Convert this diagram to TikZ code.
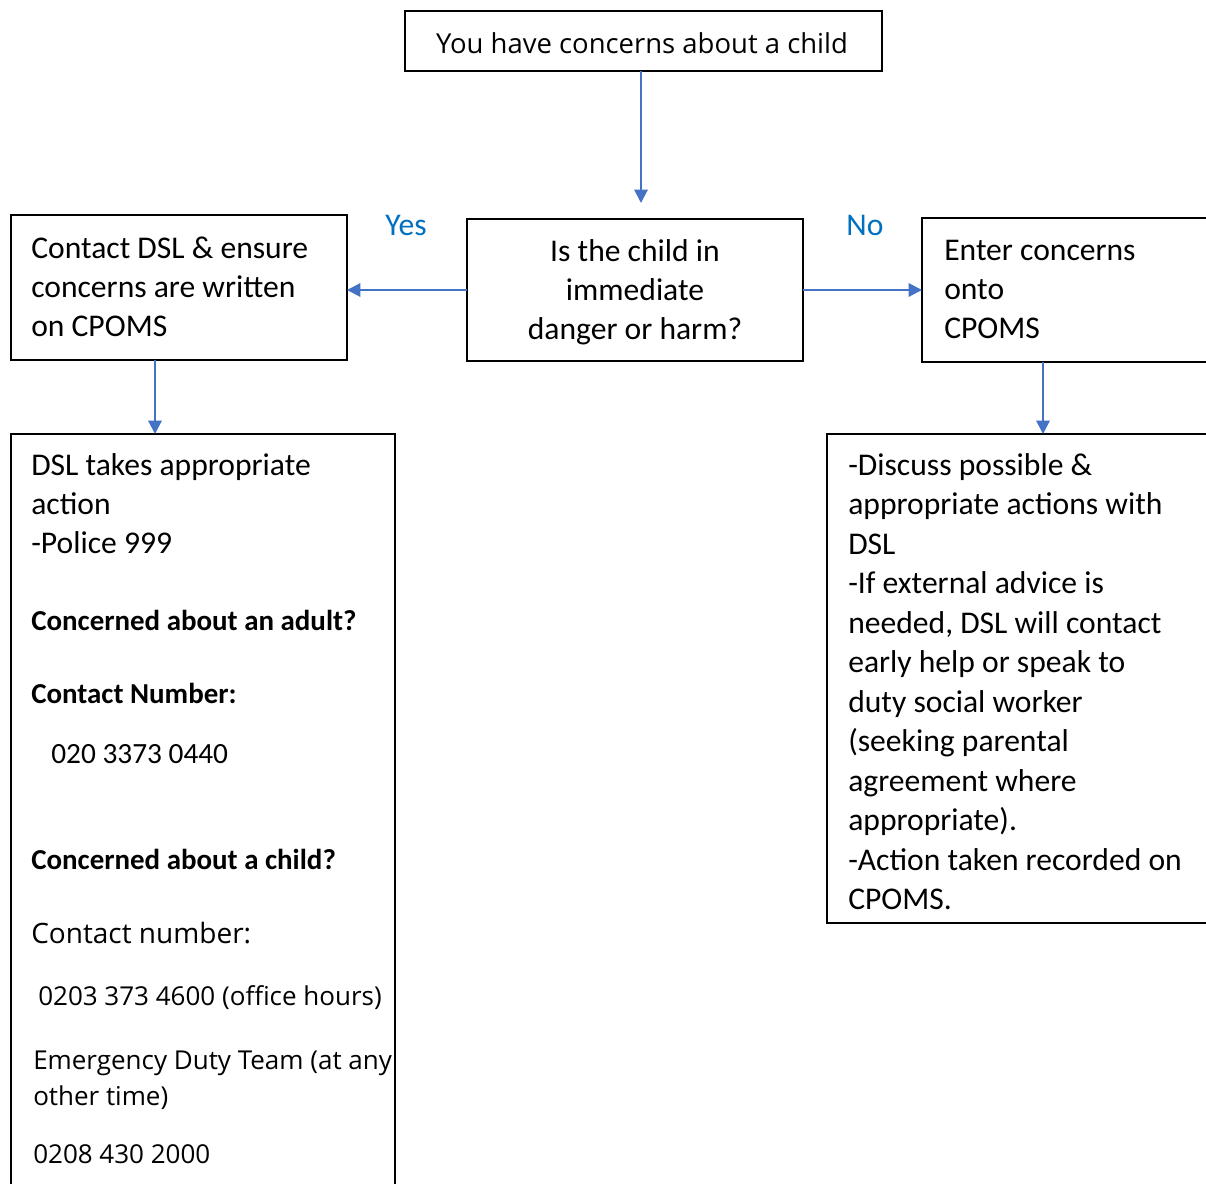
\documentclass[tikz,border=0pt]{standalone}
\usepackage{fontspec}
\setmainfont{Carlito}
\newfontfamily\osans{Open Sans}
\usetikzlibrary{arrows.meta}
\definecolor{arrowblue}{HTML}{4472C4}
\definecolor{labelblue}{HTML}{0070C0}
\begin{document}
\begin{tikzpicture}[x=0.75pt,y=-0.75pt,
  boxstyle/.style={draw=black,line width=1.6pt,inner sep=0pt},
  txt/.style={inner sep=0pt,anchor=base west,font=\fontsize{23.7}{28}\selectfont},
  ctxt/.style={inner sep=0pt,anchor=base,font=\fontsize{23.7}{28}\selectfont},
  btxt/.style={inner sep=0pt,anchor=base west,font=\fontsize{21.7}{26}\selectfont\bfseries},
  otxt/.style={inner sep=0pt,anchor=base west,font=\fontsize{19.5}{24}\selectfont\osans},
  lbl/.style={inner sep=0pt,anchor=base,text=labelblue,font=\fontsize{23.7}{28}\selectfont},
  conn/.style={draw=arrowblue,line width=1.5pt,-{Triangle[length=10pt,width=10pt]}}]
\useasboundingbox (0,0) rectangle (1206,1184);
% boxes
\draw[boxstyle] (405,11) rectangle (882,71);
\draw[boxstyle] (467,219) rectangle (803,361);
\draw[boxstyle] (11,215) rectangle (347,360);
\draw[boxstyle] (922,218) rectangle (1215,362);
\draw[boxstyle] (11,434) rectangle (395,1200);
\draw[boxstyle] (827,434) rectangle (1215,923);
% anchor coordinates
\coordinate (topB) at (641,71);
\coordinate (topEnd) at (641,203);
\coordinate (midL) at (467,290);
\coordinate (midR) at (803,290);
\coordinate (leftR) at (347,290);
\coordinate (rightL) at (922,290);
\coordinate (leftB) at (155,360);
\coordinate (leftBotT) at (155,434);
\coordinate (rightB) at (1043,362);
\coordinate (rightBotT) at (1043,434);
% connectors
\draw[conn] (topB) -- (topEnd);
\draw[conn] (midL) -- (leftR);
\draw[conn] (midR) -- (rightL);
\draw[conn] (leftB) -- (leftBotT);
\draw[conn] (rightB) -- (rightBotT);
% labels
\node[lbl] (yes) at (406,235) {Yes};
\node[lbl] (no) at (865,235) {No};
% top
\node[inner sep=0pt,anchor=base,font=\fontsize{20.6}{26}\selectfont\osans] (t1) at (642,54) {You have concerns about a child};
% middle
\node[ctxt] (m1) at (635,261) {Is the child in};
\node[ctxt] (m2) at (635,300) {immediate};
\node[ctxt] (m3) at (635,339) {danger or harm?};
% left
\node[txt] (l1) at (31,258) {Contact DSL \& ensure};
\node[txt] (l2) at (31,297) {concerns are written};
\node[txt] (l3) at (31,336) {on CPOMS};
% right
\node[txt] (r1) at (944,260) {Enter concerns};
\node[txt] (r2) at (944,299) {onto};
\node[txt] (r3) at (944,338) {CPOMS};
% left bottom
\node[txt] (a1) at (31,475) {DSL takes appropriate};
\node[txt] (a2) at (31,514) {action};
\node[txt] (a3) at (31,553) {-Police 999};
\node[btxt] (a4) at (31,630) {Concerned about an adult?};
\node[btxt] (a5) at (31,703) {Contact Number:};
\node[txt,font=\fontsize{22}{26}\selectfont] (a6) at (51,763) {020 3373 0440};
\node[btxt] (a7) at (31,869) {Concerned about a child?};
\node[otxt,font=\fontsize{21}{26}\selectfont\osans] (a8) at (31,943) {Contact number:};
\node[otxt] (a9) at (38,1005) {0203 373 4600 (office hours)};
\node[otxt] (a10) at (33,1069) {Emergency Duty Team (at any};
\node[otxt] (a11) at (33,1105) {other time)};
\node[otxt] (a12) at (33,1163) {0208 430 2000};
% right bottom
\node[txt] (b1) at (848,475) {-Discuss possible \&};
\node[txt] (b2) at (848,514.5) {appropriate actions with};
\node[txt] (b3) at (848,554) {DSL};
\node[txt] (b4) at (848,593.5) {-If external advice is};
\node[txt] (b5) at (848,633) {needed, DSL will contact};
\node[txt] (b6) at (848,672.5) {early help or speak to};
\node[txt] (b7) at (848,712) {duty social worker};
\node[txt] (b8) at (848,751.5) {(seeking parental};
\node[txt] (b9) at (848,791) {agreement where};
\node[txt] (b10) at (848,830.5) {appropriate).};
\node[txt] (b11) at (848,870) {-Action taken recorded on};
\node[txt] (b12) at (848,909.5) {CPOMS.};
\end{tikzpicture}
\end{document}
